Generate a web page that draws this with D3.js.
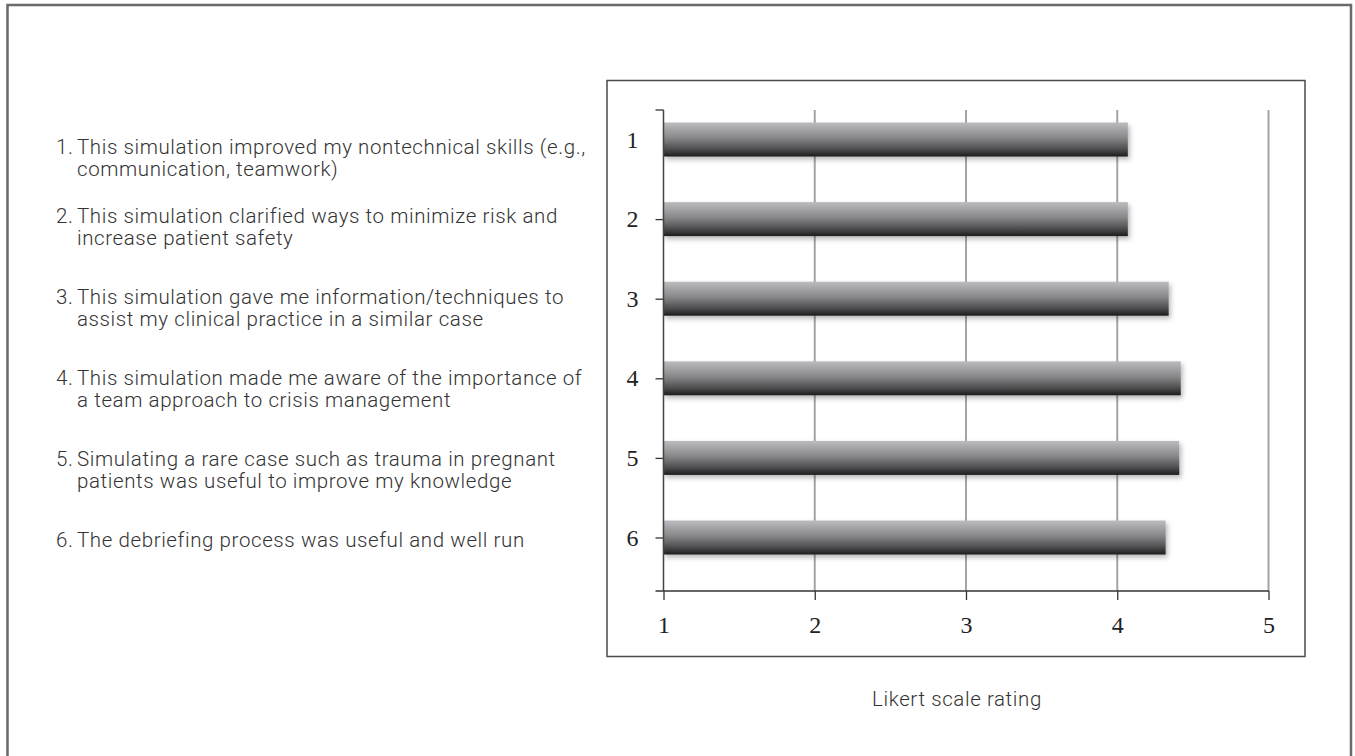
<!DOCTYPE html>
<html>
<head>
<meta charset="utf-8">
<script src="https://cdn.jsdelivr.net/npm/d3@7/dist/d3.min.js"></script>
<style>
  html, body { margin: 0; padding: 0; background: #fff; }
  svg { display: block; }
</style>
</head>
<body>
<svg id="chart" width="1355" height="756"></svg>
<script>
// Survey items (category order, top to bottom)
const categories = ["1", "2", "3", "4", "5", "6"];
// Mean Likert rating for each item
const ratings = [4.07, 4.07, 4.34, 4.42, 4.41, 4.32];
// Statement text for each item (wrapped lines)
const statements = [
  ["This simulation improved my nontechnical skills (e.g.,", "communication, teamwork)"],
  ["This simulation clarified ways to minimize risk and", "increase patient safety"],
  ["This simulation gave me information/techniques to", "assist my clinical practice in a similar case"],
  ["This simulation made me aware of the importance of", "a team approach to crisis management"],
  ["Simulating a rare case such as trauma in pregnant", "patients was useful to improve my knowledge"],
  ["The debriefing process was useful and well run"]
];
const xTicks = [1, 2, 3, 4, 5];
const xTitle = "Likert scale rating";

const svg = d3.select("#chart");
const serif = "'Liberation Serif', 'DejaVu Serif', serif";
const sans = "Roboto, 'Liberation Sans', sans-serif";

// Outer frame (open at the bottom)
svg.append("path")
  .attr("d", "M7.5,760 V5 H1351 V760")
  .attr("fill", "none").attr("stroke", "#6a6a6a").attr("stroke-width", 2.5);

// Chart frame
svg.append("rect")
  .attr("x", 607).attr("y", 80.5).attr("width", 698).attr("height", 576)
  .attr("fill", "none").attr("stroke", "#4a4a4a").attr("stroke-width", 1.5);

const plot = { left: 663.5, right: 1268.5, top: 110, bottom: 591 };

const x = d3.scaleLinear().domain([1, 5]).range([plot.left, plot.right]);
const y = d3.scalePoint().domain(categories).range([139.5, 537.5]);
const barH = 34;

// Defs: bar gradient and soft shadow
const defs = svg.append("defs");
const grad = defs.append("linearGradient").attr("id", "barGrad")
  .attr("x1", 0).attr("y1", 0).attr("x2", 0).attr("y2", 1);
grad.append("stop").attr("offset", "0%").attr("stop-color", "#bcbcc0");
grad.append("stop").attr("offset", "45%").attr("stop-color", "#88888b");
grad.append("stop").attr("offset", "80%").attr("stop-color", "#4a4a4c");
grad.append("stop").attr("offset", "100%").attr("stop-color", "#1c1c1c");

const shadow = defs.append("filter").attr("id", "barShadow")
  .attr("x", "-5%").attr("y", "-30%").attr("width", "115%").attr("height", "180%");
shadow.append("feDropShadow")
  .attr("dx", 2).attr("dy", 3).attr("stdDeviation", 2.5)
  .attr("flood-color", "#000").attr("flood-opacity", 0.28);

// Vertical gridlines
svg.append("g").selectAll("line")
  .data(xTicks.slice(1))
  .join("line")
  .attr("x1", d => x(d)).attr("x2", d => x(d))
  .attr("y1", plot.top).attr("y2", plot.bottom)
  .attr("stroke", "#a4a4a4").attr("stroke-width", 2);

// Bars
svg.append("g").selectAll("rect")
  .data(ratings)
  .join("rect")
  .attr("x", x(1))
  .attr("y", (d, i) => y(categories[i]) - barH / 2)
  .attr("width", d => x(d) - x(1))
  .attr("height", barH)
  .attr("fill", "url(#barGrad)")
  .attr("filter", "url(#barShadow)");

// X axis
const xAxis = svg.append("g")
  .attr("transform", `translate(0,${plot.bottom})`)
  .call(d3.axisBottom(x).tickValues(xTicks).tickFormat(d3.format("d")).tickSize(9).tickPadding(16));
xAxis.select(".domain").remove();
xAxis.selectAll(".tick line").attr("stroke", "#333").attr("stroke-width", 1.3);
xAxis.selectAll(".tick text")
  .attr("font-family", serif).attr("font-size", 24).attr("fill", "#222");
svg.append("line")
  .attr("x1", plot.left - 8).attr("x2", plot.right + 0.5)
  .attr("y1", plot.bottom).attr("y2", plot.bottom)
  .attr("stroke", "#333").attr("stroke-width", 1.5);

// Y axis
const yAxis = svg.append("g")
  .attr("transform", `translate(${plot.left},0)`)
  .call(d3.axisLeft(y).tickSize(8).tickPadding(17));
yAxis.select(".domain").remove();
yAxis.selectAll(".tick line").attr("stroke", "#333").attr("stroke-width", 1.3)
  .filter(d => d === categories[0]).remove();
yAxis.selectAll(".tick text")
  .attr("font-family", serif).attr("font-size", 24).attr("fill", "#222")
  .attr("text-anchor", "middle").attr("x", -31);
svg.append("line")
  .attr("x1", plot.left).attr("x2", plot.left)
  .attr("y1", plot.top).attr("y2", plot.bottom)
  .attr("stroke", "#444").attr("stroke-width", 1.5);
svg.append("line")
  .attr("x1", plot.left - 8).attr("x2", plot.left)
  .attr("y1", plot.top).attr("y2", plot.top)
  .attr("stroke", "#333").attr("stroke-width", 1.3);

const textSize = 20.5;
const textSpacing = 0.6;

// X axis title
svg.append("text")
  .attr("x", 957).attr("y", 706)
  .attr("text-anchor", "middle")
  .attr("font-family", sans).attr("font-weight", 300).attr("font-size", textSize)
  .attr("letter-spacing", textSpacing)
  .attr("fill", "#333")
  .text(xTitle);

// Statement list: baseline of each item's first line
const itemBaselines = [154, 223, 304, 385, 466, 547];
const list = svg.append("g")
  .attr("font-family", sans).attr("font-weight", 300).attr("font-size", textSize)
  .attr("letter-spacing", textSpacing).attr("fill", "#333");
statements.forEach((lines, i) => {
  const g = list.append("g").attr("transform", `translate(0,${itemBaselines[i]})`);
  g.append("text").attr("x", 56).attr("y", 0).text(categories[i] + ".");
  lines.forEach((ln, j) => {
    g.append("text").attr("x", 77).attr("y", j * 22).text(ln);
  });
});
</script>
</body>
</html>
